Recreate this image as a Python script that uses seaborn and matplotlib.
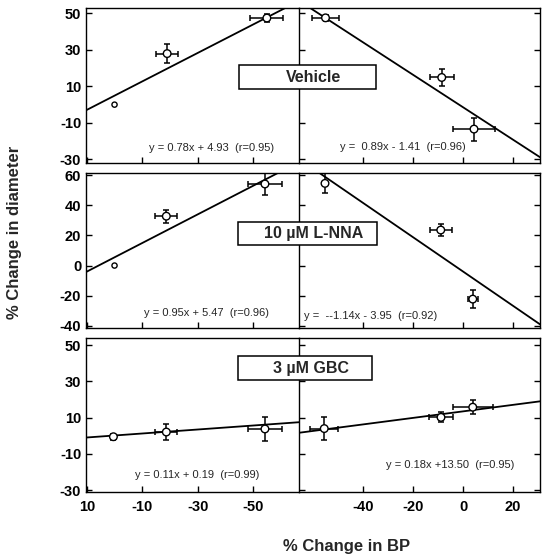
import numpy as np
import pandas as pd
import matplotlib
matplotlib.use("Agg")
import matplotlib.pyplot as plt
import seaborn as sns

sns.set_style("ticks")
plt.rcParams['font.family'] = ['Liberation Sans', 'DejaVu Sans']
plt.rcParams['axes.unicode_minus'] = False

# ---- data ----
panel_labels = ["Vehicle", "10 \u00b5M L-NNA", "3 \u00b5M GBC"]

left_x = [[0, -19, -55], [0, -18.7, -54.3], [0.4, -18.7, -54.3]]
left_y = [[0, 28, 47.5], [0, 32.8, 54.2], [-0.5, 2.1, 3.8]]
left_xerr = [[0, 4, 6], [0, 4, 6], [1, 4, 6]]
left_yerr = [[0, 5, 2], [0, 4.4, 7], [1.7, 4.4, 6.4]]

right_x = [[-55, -8.5, 4.4], [-55.2, -8.9, 3.9], [-55.5, -8.8, 3.9]]
right_y = [[47.6, 14.9, -13.4], [54.6, 23.6, -22.3], [4, 10.2, 15.8]]
right_xerr = [[5.5, 4.8, 8.4], [0, 4.3, 2], [5.6, 4.7, 8]]
right_yerr = [[1.5, 4.7, 6.3], [6.6, 3.8, 5.8], [6.2, 2.8, 4]]

# regression lines (slope in plotted coordinates, intercept)
left_slope = [-0.78, -0.95, -0.11]
left_icpt = [4.93, 5.47, 0.19]
right_slope = [-0.89, -1.14, 0.18]
right_icpt = [-1.41, -3.95, 13.50]

left_eq = ["y = 0.78x + 4.93  (r=0.95)", "y = 0.95x + 5.47  (r=0.96)", "y = 0.11x + 0.19  (r=0.99)"]
right_eq = ["y =  0.89x - 1.41  (r=0.96)", "y =  --1.14x - 3.95  (r=0.92)", "y = 0.18x +13.50  (r=0.95)"]

y_ticks = [[-30, -10, 10, 30, 50], [-40, -20, 0, 20, 40, 60], [-30, -10, 10, 30, 50]]
y_lims = [(-32, 53), (-41.5, 61.5), (-31, 54)]
left_xticks = [10, -10, -30, -50]
right_xticks = [-40, -20, 0, 20]
left_xlim = (10.3, -66.6)
right_xlim = (-65.6, 30.8)

# ---- figure ----
W, H = 543, 556
fig = plt.figure(figsize=(W / 100, H / 100), dpi=100)

def fx(px):
    return px / W

def fy(py):
    return 1 - py / H

panel_px = [(8, 163), (173, 328), (338, 492)]
xl0, xmid, xr1 = 86, 299, 540
box_px = [(239, 376, 65, 89), (238, 377, 222, 245), (238, 372, 356, 380)]
eq_left_px = [(212, 148), (207, 313), (197, 475)]
eq_right_px = [(403, 147), (371, 316), (450, 465)]

def draw_points(ax, xs, ys, xe, ye, small_first):
    for i, (x, y, ex, ey) in enumerate(zip(xs, ys, xe, ye)):
        if ex > 0 or ey > 0:
            ax.errorbar([x], [y], xerr=[ex] if ex > 0 else None, yerr=[ey] if ey > 0 else None,
                        fmt='none', ecolor='black', elinewidth=1.1, capsize=2.5, capthick=1.1, zorder=3)
    df = pd.DataFrame({"x": xs, "y": ys})
    sizes = [14 if (small_first and i == 0) else 30 for i in range(len(xs))]
    ax.scatter(df["x"], df["y"], s=sizes, facecolor='white', edgecolor='black', linewidth=1.0, zorder=4)

for p in range(3):
    top, bot = panel_px[p]
    axL = fig.add_axes([fx(xl0), fy(bot), fx(xmid - xl0), (bot - top) / H])
    axR = fig.add_axes([fx(xmid), fy(bot), fx(xr1 - xmid), (bot - top) / H])
    for ax, xlim, xticks in ((axL, left_xlim, left_xticks), (axR, right_xlim, right_xticks)):
        ax.set_xlim(*xlim)
        ax.set_ylim(*y_lims[p])
        ax.set_xticks(xticks)
        ax.set_yticks(y_ticks[p])
        for s in ax.spines.values():
            s.set_linewidth(1.0)
            s.set_color('black')
        ax.tick_params(direction='in', length=4, width=1.0, colors='black', labelsize=10.5)
        ax.set_xlabel("")
        ax.set_ylabel("")
    axL.spines['right'].set_visible(False)
    axR.tick_params(axis='y', left=True, right=True, labelleft=False)
    axL.tick_params(axis='y', left=True, right=False)
    for lab in axL.get_yticklabels():
        lab.set_fontweight('bold')
    if p < 2:
        axL.tick_params(axis='x', labelbottom=False)
        axR.tick_params(axis='x', labelbottom=False)
    else:
        for lab in axL.get_xticklabels() + axR.get_xticklabels():
            lab.set_fontweight('bold')
        axL.tick_params(axis='x', pad=6)
        axR.tick_params(axis='x', pad=6)

    # regression lines
    xx = np.array(left_xlim)
    sns.lineplot(x=xx, y=left_slope[p] * xx + left_icpt[p], ax=axL, color='black', linewidth=1.3, zorder=2)
    xx = np.array(right_xlim)
    sns.lineplot(x=xx, y=right_slope[p] * xx + right_icpt[p], ax=axR, color='black', linewidth=1.3, zorder=2)

    draw_points(axL, left_x[p], left_y[p], left_xerr[p], left_yerr[p], small_first=(p < 2))
    draw_points(axR, right_x[p], right_y[p], right_xerr[p], right_yerr[p], small_first=False)

    # equations
    ex, ey = eq_left_px[p]
    fig.text(fx(ex), fy(ey), left_eq[p], ha='center', va='center', fontsize=8)
    ex, ey = eq_right_px[p]
    fig.text(fx(ex), fy(ey), right_eq[p], ha='center', va='center', fontsize=8)

    # label box
    bx0, bx1, by0, by1 = box_px[p]
    rect = plt.Rectangle((fx(bx0), fy(by1)), fx(bx1 - bx0), (by1 - by0) / H,
                         transform=fig.transFigure, facecolor='white', edgecolor='black',
                         linewidth=1.1, zorder=10)
    fig.patches.append(rect)
    fig.text(fx((bx0 + bx1) / 2 + 6), fy((by0 + by1) / 2), panel_labels[p], ha='center', va='center',
             fontsize=11.5, fontweight='bold', zorder=11)

fig.text(fx(15), fy(232), "% Change in diameter", rotation=90, ha='center', va='center',
         fontsize=12, fontweight='bold')
fig.text(fx(347), fy(546), "% Change in BP", ha='center', va='center', fontsize=12, fontweight='bold')

fig.savefig("out.png", dpi=100)
